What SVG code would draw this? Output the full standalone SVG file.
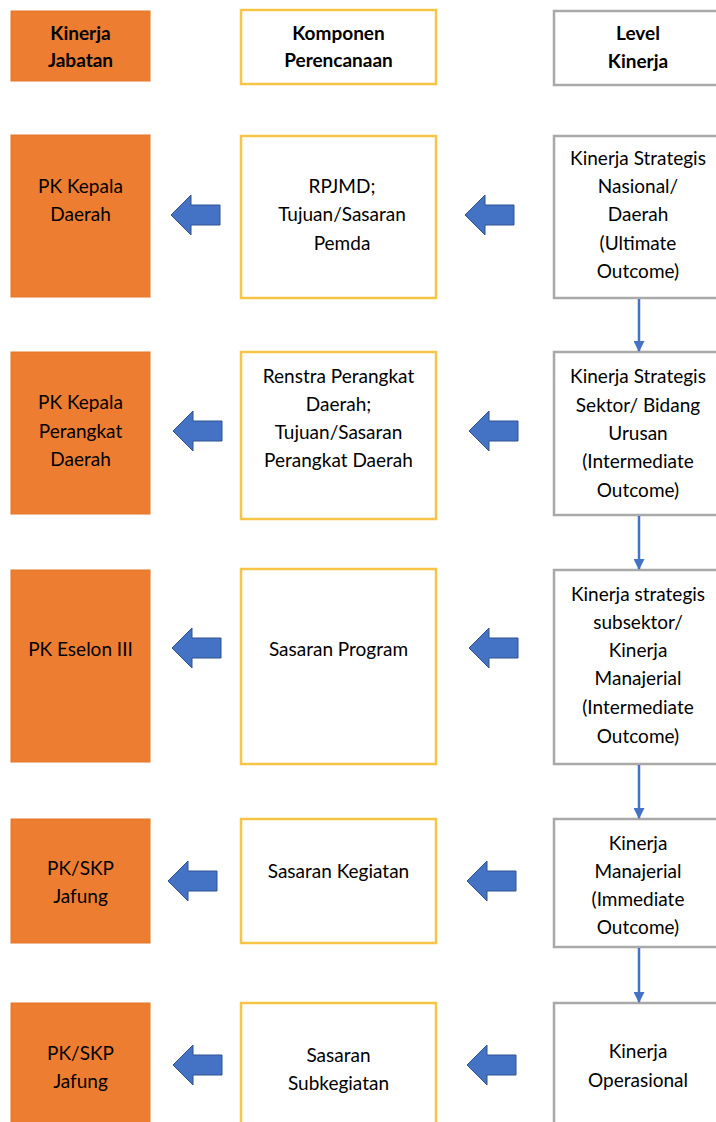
<svg xmlns="http://www.w3.org/2000/svg" width="716" height="1122" viewBox="0 0 716 1122">
<defs>
<style>
.o{fill:#ED7D31;stroke:#E2762C;stroke-width:1}
.y{fill:#fff;stroke:#F6C545;stroke-width:2.5}
.g{fill:#fff;stroke:#A9A9A9;stroke-width:2.5}
text{font-family:Lato,"Open Sans","Liberation Sans",sans-serif;font-size:19px;fill:#000;text-anchor:middle}
.h{font-weight:bold;font-size:19px}
.ba{fill:#4472C4;stroke:#2F528F;stroke-width:1}
.vl{stroke:#4472C4;stroke-width:2.5;fill:none}
</style>
<marker id="ah" markerWidth="11" markerHeight="11" refX="10" refY="5.5" orient="auto" markerUnits="userSpaceOnUse" viewBox="0 0 11 11">
<path d="M0,0 L11,5.5 L0,11 Z" fill="#4472C4"/>
</marker>
<path id="bl" d="M0,0 L20,-20 L20,-10 L49,-10 L49,10 L20,10 L20,20 Z"/>
</defs>
<rect width="716" height="1122" fill="#fff"/>

<g id="h-jabatan"><rect class="o" x="11" y="11" width="139" height="70"/><text class="h" x="80.5" y="40">Kinerja</text><text class="h" x="80.5" y="67">Jabatan</text></g>
<g id="h-komponen"><rect class="y" x="241" y="10" width="195" height="74"/><text class="h" x="338.5" y="40">Komponen</text><text class="h" x="338.5" y="67">Perencanaan</text></g>
<g id="h-level"><rect class="g" x="554" y="11" width="190" height="74"/><text class="h" x="638" y="40">Level</text><text class="h" x="638" y="68">Kinerja</text></g>

<g id="r1-jab"><rect class="o" x="11" y="135" width="139" height="162"/><text x="80.5" y="193">PK Kepala</text><text x="80.5" y="221">Daerah</text></g>
<g id="r1-komp"><rect class="y" x="241" y="136" width="195" height="162"/><text x="342" y="193">RPJMD;</text><text x="342" y="221">Tujuan/Sasaran</text><text x="342" y="250">Pemda</text></g>
<g id="r1-lev"><rect class="g" x="554" y="136" width="190" height="162"/><text x="638" y="165">Kinerja Strategis</text><text x="638" y="193">Nasional/</text><text x="638" y="221">Daerah</text><text x="638" y="250">(Ultimate</text><text x="638" y="278">Outcome)</text></g>

<g id="r2-jab"><rect class="o" x="11" y="352" width="139" height="162"/><text x="80.5" y="409">PK Kepala</text><text x="80.5" y="438">Perangkat</text><text x="80.5" y="466">Daerah</text></g>
<g id="r2-komp"><rect class="y" x="241" y="352" width="195" height="167"/><text x="338.5" y="383">Renstra Perangkat</text><text x="338.5" y="411">Daerah;</text><text x="338.5" y="439">Tujuan/Sasaran</text><text x="338.5" y="467">Perangkat Daerah</text></g>
<g id="r2-lev"><rect class="g" x="554" y="352" width="190" height="163"/><text x="638" y="383">Kinerja Strategis</text><text x="638" y="412">Sektor/ Bidang</text><text x="638" y="440">Urusan</text><text x="638" y="468">(Intermediate</text><text x="638" y="497">Outcome)</text></g>

<g id="r3-jab"><rect class="o" x="11" y="570" width="139" height="192"/><text x="80.5" y="656">PK Eselon III</text></g>
<g id="r3-komp"><rect class="y" x="241" y="569" width="195" height="195"/><text x="338.5" y="656">Sasaran Program</text></g>
<g id="r3-lev"><rect class="g" x="554" y="570" width="190" height="194"/><text x="638" y="601">Kinerja strategis</text><text x="638" y="629">subsektor/</text><text x="638" y="657">Kinerja</text><text x="638" y="685">Manajerial</text><text x="638" y="714">(Intermediate</text><text x="638" y="743">Outcome)</text></g>

<g id="r4-jab"><rect class="o" x="11" y="819" width="139" height="124"/><text x="80.5" y="875">PK/SKP</text><text x="80.5" y="903">Jafung</text></g>
<g id="r4-komp"><rect class="y" x="241" y="819" width="195" height="124"/><text x="338.5" y="878">Sasaran Kegiatan</text></g>
<g id="r4-lev"><rect class="g" x="554" y="819" width="190" height="128"/><text x="638" y="850">Kinerja</text><text x="638" y="878">Manajerial</text><text x="638" y="906">(Immediate</text><text x="638" y="934">Outcome)</text></g>

<g id="r5-jab"><rect class="o" x="11" y="1003" width="139" height="130"/><text x="80.5" y="1060">PK/SKP</text><text x="80.5" y="1088">Jafung</text></g>
<g id="r5-komp"><rect class="y" x="241" y="1003" width="195" height="130"/><text x="338.5" y="1062">Sasaran</text><text x="338.5" y="1090">Subkegiatan</text></g>
<g id="r5-lev"><rect class="g" x="554" y="1003" width="190" height="130"/><text x="638" y="1058">Kinerja</text><text x="638" y="1087">Operasional</text></g>

<g id="connectors">
<use href="#bl" class="ba" x="171" y="215"/>
<use href="#bl" class="ba" x="465" y="215"/>
<use href="#bl" class="ba" x="173" y="431"/>
<use href="#bl" class="ba" x="469" y="431"/>
<use href="#bl" class="ba" x="172" y="648"/>
<use href="#bl" class="ba" x="469" y="648"/>
<use href="#bl" class="ba" x="168" y="881"/>
<use href="#bl" class="ba" x="467" y="881"/>
<use href="#bl" class="ba" x="173" y="1065"/>
<use href="#bl" class="ba" x="467" y="1065"/>
<line class="vl" x1="639" y1="299" x2="639" y2="351" marker-end="url(#ah)"/>
<line class="vl" x1="639" y1="516" x2="639" y2="569" marker-end="url(#ah)"/>
<line class="vl" x1="639" y1="765" x2="639" y2="818" marker-end="url(#ah)"/>
<line class="vl" x1="639" y1="948" x2="639" y2="1002" marker-end="url(#ah)"/>
</g>
</svg>
